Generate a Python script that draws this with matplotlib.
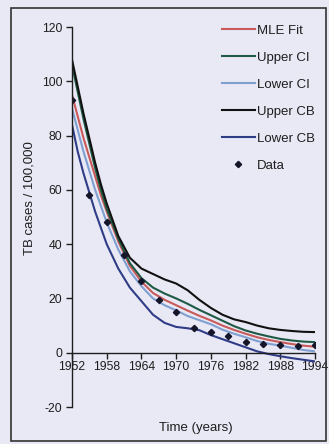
import matplotlib
matplotlib.use("Agg")
import matplotlib.pyplot as plt
from matplotlib.patches import Rectangle

plt.rcParams['font.family'] = ['Liberation Sans', 'DejaVu Sans']
plt.rcParams['axes.unicode_minus'] = False

years = [1952, 1953, 1954, 1955, 1956, 1957, 1958, 1960, 1962, 1964, 1966, 1968,
         1970, 1972, 1974, 1976, 1978, 1980, 1982, 1984, 1986, 1988, 1990, 1992, 1994]

mle_fit = [95, 87, 79, 72, 65, 58, 52, 41, 32, 26.2, 22, 19.5,
           17.5, 15.5, 13.6, 11.9, 10, 8.4, 7, 5.7, 4.7, 3.9, 3.2, 2.6, 2.2]
upper_ci = [106, 96, 86, 77, 68, 60, 53, 42, 33, 27.5, 24, 21.8,
            20, 18, 15.8, 13.8, 11.8, 9.8, 8.2, 7, 6, 5.1, 4.5, 4.1, 3.9]
lower_ci = [90, 82, 74, 67, 60, 54, 48, 38, 30, 24.5, 20, 17.5,
            15.6, 13.5, 12, 10.5, 8.5, 7, 5.7, 4.3, 3.3, 2.6, 1.8, 1, 0.5]
upper_cb = [108, 98, 88, 79, 70, 62, 55, 43, 35, 31, 29, 27,
            25.5, 23, 19.5, 16.5, 14, 12.3, 11.3, 10, 9, 8.4, 8, 7.7, 7.6]
lower_cb = [84, 74, 66, 59, 52, 46, 40, 31, 24, 19, 14, 11,
            9.5, 9, 8.3, 6.5, 5, 3.5, 2, 0.5, -0.5, -1.3, -2, -2.6, -3.2]

data_years = [1952, 1955, 1958, 1961, 1964, 1967, 1970, 1973, 1976, 1979,
              1982, 1985, 1988, 1991, 1994]
data_cases = [93, 58, 48, 36, 26.5, 19.5, 15, 9, 7.5, 6, 4, 3.3, 3, 2.3, 3]

x_ticks = [1952, 1958, 1964, 1970, 1976, 1982, 1988, 1994]
y_ticks = [-20, 0, 20, 40, 60, 80, 100, 120]

bg = '#e9e9f6'
ink = '#1e1e1e'
fig = plt.figure(figsize=(3.29, 4.44), dpi=100, facecolor=bg)
ax = fig.add_axes([72 / 329, 1 - 407 / 444, (315 - 72) / 329, (407 - 27) / 444])
ax.set_facecolor(bg)

lw = 1.5
ax.plot(years, mle_fit, color='#c85a5a', lw=lw, label='MLE Fit')
ax.plot(years, upper_ci, color='#1f5a45', lw=lw, label='Upper CI')
ax.plot(years, lower_ci, color='#7f9fd0', lw=lw, label='Lower CI')
ax.plot(years, upper_cb, color='#111111', lw=lw, label='Upper CB')
ax.plot(years, lower_cb, color='#2f3c86', lw=lw, label='Lower CB')
ax.plot(data_years, data_cases, linestyle='none', marker='D', markersize=3.2,
        color='#15152a', label='Data')

ax.set_xlim(1952, 1994)
ax.set_ylim(-20, 120)
ax.set_xticks(x_ticks)
ax.set_yticks(y_ticks)
ax.tick_params(axis='both', labelsize=8.8, length=4, width=1, color=ink,
               labelcolor=ink)
ax.tick_params(axis='x', pad=2)
ax.tick_params(axis='y', pad=3)

for side in ('top', 'right'):
    ax.spines[side].set_visible(False)
ax.spines['bottom'].set_position(('data', 0))
for side in ('left', 'bottom'):
    ax.spines[side].set_linewidth(1)
    ax.spines[side].set_color(ink)

fig.text(30 / 329, 1 - 198 / 444, 'TB cases / 100,000', fontsize=9.5, color=ink,
         rotation=90, ha='center', va='center')
fig.text(196 / 329, 1 - 428 / 444, 'Time (years)', fontsize=9.5, color=ink,
         ha='center', va='center')

leg = ax.legend(loc='upper left', bbox_to_anchor=(211 / 329, 1 - 14 / 444),
                bbox_transform=fig.transFigure, frameon=False, fontsize=9.5,
                handlelength=2.5, handletextpad=0.2, labelspacing=1.12,
                borderpad=0.3)
for t in leg.get_texts():
    t.set_color(ink)

fig.add_artist(Rectangle((11 / 329, 1 - 441 / 444), (326 - 11) / 329, (441 - 8) / 444,
                         transform=fig.transFigure, fill=False,
                         edgecolor='#333333', linewidth=1.2))

fig.savefig('out.png', dpi=100, facecolor=bg)
